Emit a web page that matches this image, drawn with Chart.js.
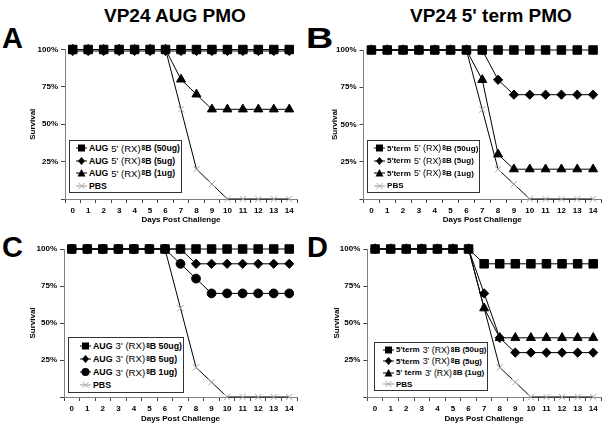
<!DOCTYPE html>
<html>
<head>
<meta charset="utf-8">
<script src="https://cdn.jsdelivr.net/npm/chart.js@4.4.1/dist/chart.umd.min.js"></script>
<style>
  body { margin: 0; background: #fff; width: 608px; height: 428px; position: relative; overflow: hidden;
         font-family: "Liberation Sans", Arial, sans-serif; }
  canvas { position: absolute; }
  .t { position: absolute; font-weight: bold; white-space: nowrap; line-height: 1; color: #000; }
  .lg { position: absolute; background: #fff; border: 1px solid #333; box-sizing: border-box; padding-top: 1px; }
  .row { display: flex; align-items: center; font-weight: bold; white-space: nowrap; color: #000; width: max-content; }
  .row svg { margin-right: 2px; flex: none; }
  .row .m { font-weight: normal; margin: 0 1px 0 3px; }
  .row sub { font-size: 6.5px; vertical-align: -2px; line-height: 0; }
</style>
</head>
<body>
<div class="t" style="left:104px;top:6px;font-size:19px;">VP24 AUG PMO</div>
<div class="t" style="left:410px;top:6px;font-size:19px;">VP24 5' term PMO</div>
<div class="t" style="left:2px;top:24px;font-size:29px;">A</div>
<div class="t" style="left:306px;top:24px;font-size:29px;transform:scaleX(1.3);transform-origin:left;">B</div>
<div class="t" style="left:2px;top:233px;font-size:29px;">C</div>
<div class="t" style="left:307px;top:233px;font-size:29px;">D</div>

<canvas id="cA" width="304" height="200" style="left:0;top:30px"></canvas>
<canvas id="cB" width="304" height="200" style="left:304px;top:30px"></canvas>
<canvas id="cC" width="304" height="198" style="left:0;top:230px"></canvas>
<canvas id="cD" width="304" height="198" style="left:304px;top:230px"></canvas>

<script>
  // days on the x axis
  const days = ["0", "1", "2", "3", "4", "5", "6", "7", "8", "9", "10", "11", "12", "13", "14"];
  const yTickStep = 25;

  // PBS control, same in every panel
  const pbs = [100, 100, 100, 100, 100, 100, 100, 60, 20, 10, 0, 0, 0, 0, 0];

  // A: VP24 AUG, 5'(RX)8B
  const a50 = [100, 100, 100, 100, 100, 100, 100, 100, 100, 100, 100, 100, 100, 100, 100];
  const a5 = [99, 99, 99, 99, 99, 99, 99, 99, 99, 99, 99, 99, 99, 99, 99];
  const a1 = [100, 100, 100, 100, 100, 100, 100, 80, 70, 60, 60, 60, 60, 60, 60];
  const labelsA = ["AUG  5' (RX)8B (50ug)", "AUG  5' (RX)8B (5ug)", "AUG  5' (RX)8B (1ug)", "PBS"];

  // B: VP24 5' term, 5'(RX)8B
  const b50 = [100, 100, 100, 100, 100, 100, 100, 100, 100, 100, 100, 100, 100, 100, 100];
  const b5 = [100, 100, 100, 100, 100, 100, 100, 100, 80, 70, 70, 70, 70, 70, 70];
  const b1 = [100, 100, 100, 100, 100, 100, 100, 80, 30, 20, 20, 20, 20, 20, 20];
  const labelsB = ["5'term  5' (RX)8B (50ug)", "5'term  5' (RX)8B (5ug)", "5'term  5' (RX)8B (1ug)", "PBS"];

  // C: VP24 AUG, 3'(RX)8B
  const c50 = [100, 100, 100, 100, 100, 100, 100, 100, 100, 100, 100, 100, 100, 100, 100];
  const c5 = [100, 100, 100, 100, 100, 100, 100, 100, 90, 90, 90, 90, 90, 90, 90];
  const c1 = [100, 100, 100, 100, 100, 100, 100, 90, 80, 70, 70, 70, 70, 70, 70];
  const labelsC = ["AUG  3' (RX)8B 50ug)", "AUG  3' (RX)8B 5ug)", "AUG  3' (RX)8B 1ug)", "PBS"];

  // D: VP24 5' term, 3'(RX)8B
  const d50 = [100, 100, 100, 100, 100, 100, 100, 90, 90, 90, 90, 90, 90, 90, 90];
  const d5 = [100, 100, 100, 100, 100, 100, 100, 70, 40, 30, 30, 30, 30, 30, 30];
  const d1 = [100, 100, 100, 100, 100, 100, 100, 60, 40, 40, 40, 40, 40, 40, 40];
  const labelsD = ["5'term  3' (RX)8B (50ug)", "5'term  3' (RX)8B (5ug)", "5' term  3' (RX)8B  (1ug)", "PBS"];

  const FONT = "'Liberation Sans', Arial, sans-serif";
  const AXIS = "#808080";

  const MARKS = {
    square: { style: "rect", r: 6, color: "#000" },
    diamond: { style: "rectRot", r: 4.6, color: "#000" },
    triangle: { style: "triangle", r: 5.2, color: "#000" },
    circle: { style: "circle", r: 4.4, color: "#000" },
    cross: { style: "crossRot", r: 4.5, color: "#a8a8a8" },
  };

  function dataset(label, values, markName) {
    const m = MARKS[markName];
    return {
      label: label,
      data: values,
      borderColor: "#000",
      borderWidth: 1,
      pointStyle: m.style,
      pointRadius: m.r,
      pointBackgroundColor: m.color,
      pointBorderColor: m.color,
      pointBorderWidth: 1,
      tension: 0,
      clip: false,
    };
  }

  function makeChart(id, sets, pad, yWidth, xHeight) {
    return new Chart(document.getElementById(id), {
      type: "line",
      data: { labels: days, datasets: sets },
      options: {
        responsive: false,
        animation: false,
        layout: { padding: pad },
        plugins: { legend: { display: false }, tooltip: { enabled: false } },
        scales: {
          x: {
            offset: true,
            grid: { offset: true, drawOnChartArea: false, tickLength: 4, color: "#444" },
            border: { color: AXIS },
            ticks: { color: "#000", padding: 3, font: { family: FONT, size: 8, weight: "bold" }, maxRotation: 0 },
            title: { display: true, text: "Days Post Challenge", color: "#000", padding: { top: 2, bottom: 4 },
                     font: { family: FONT, size: 8, weight: "bold" } },
            afterFit: (s) => { s.height = xHeight; },
          },
          y: {
            min: 0,
            max: 100,
            grid: { drawOnChartArea: false, tickLength: 4, color: "#444" },
            border: { color: AXIS },
            ticks: { stepSize: yTickStep, color: "#000", padding: 3,
                     font: { family: FONT, size: 8, weight: "bold" },
                     callback: (v) => (v === 0 ? "" : v + "%") },
            title: { display: true, text: "Survival", color: "#000", padding: { top: 4, bottom: 2 },
                     font: { family: FONT, size: 8, weight: "bold" } },
            afterFit: (s) => { s.width = yWidth; },
          },
        },
      },
    });
  }

  // small marker sample for the html legend
  function markerSvg(markName) {
    const c = MARKS[markName].color;
    let shape = "";
    if (markName === "square") shape = `<rect x="2" y="1.5" width="7" height="7" fill="${c}"/>`;
    if (markName === "diamond") shape = `<polygon points="5.5,1 9,5 5.5,9 2,5" fill="${c}"/>`;
    if (markName === "triangle") shape = `<polygon points="5.5,1 9.5,8.5 1.5,8.5" fill="${c}"/>`;
    if (markName === "circle") shape = `<circle cx="5.5" cy="5" r="4" fill="${c}"/>`;
    if (markName === "cross") shape = `<path d="M2.5,2 L8.5,8 M8.5,2 L2.5,8" stroke="${c}" stroke-width="1"/>`;
    const line = markName === "cross" ? "#999" : "#000";
    return `<svg width="11" height="10"><line x1="0" y1="5" x2="11" y2="5" stroke="${line}" stroke-width="1"/>${shape}</svg>`;
  }

  function labelHtml(text) {
    const m = text.match(/^(.*?)\s+([35]' \(RX\))8(.*)$/);
    if (!m) return `<span>${text}</span>`;
    return `<span>${m[1]}</span><span class="m">${m[2]}</span><sub>8</sub><span>${m[3]}</span>`;
  }

  function makeLegend(labels, marks, box) {
    const div = document.createElement("div");
    div.className = "lg";
    div.style.left = box.x + "px";
    div.style.top = box.y + "px";
    div.style.width = box.w + "px";
    div.style.height = box.h + "px";
    const rowH = (box.h - 3) / labels.length;
    const rows = labels.map((lab, i) => {
      const row = document.createElement("div");
      row.className = "row";
      row.style.height = rowH + "px";
      row.style.paddingLeft = box.indent + "px";
      row.innerHTML = markerSvg(marks[i]) + labelHtml(lab);
      div.appendChild(row);
      return row;
    });
    document.body.appendChild(div);
    // shrink the text until the widest entry fits inside the box
    let fs = box.fs;
    const apply = () => rows.forEach((r) => {
      r.style.fontSize = fs + "px";
      r.querySelectorAll(".m").forEach((s) => { s.style.fontSize = (fs + 0.8) + "px"; });
    });
    apply();
    while (fs > 6 && Math.max(...rows.map((r) => r.offsetWidth)) > box.w - 3) {
      fs -= 0.1;
      apply();
    }
  }

  const marksSqDiTri = ["square", "diamond", "triangle", "cross"];
  const marksSqDiCir = ["square", "diamond", "circle", "cross"];

  makeChart("cA", [
    dataset(labelsA[0], a50, "square"),
    dataset(labelsA[1], a5, "diamond"),
    dataset(labelsA[2], a1, "triangle"),
    dataset(labelsA[3], pbs, "cross"),
  ], { left: 24, right: 3.5, top: 19.5, bottom: 1 }, 41, 30);

  makeChart("cB", [
    dataset(labelsB[0], b50, "square"),
    dataset(labelsB[1], b5, "diamond"),
    dataset(labelsB[2], b1, "triangle"),
    dataset(labelsB[3], pbs, "cross"),
  ], { left: 22, right: 7, top: 20, bottom: 1 }, 37.5, 30);

  makeChart("cC", [
    dataset(labelsC[0], c50, "square"),
    dataset(labelsC[1], c5, "diamond"),
    dataset(labelsC[2], c1, "circle"),
    dataset(labelsC[3], pbs, "cross"),
  ], { left: 24, right: 3.6, top: 19, bottom: 0 }, 40, 31);

  makeChart("cD", [
    dataset(labelsD[0], d50, "square"),
    dataset(labelsD[1], d5, "diamond"),
    dataset(labelsD[2], d1, "triangle"),
    dataset(labelsD[3], pbs, "cross"),
  ], { left: 24, right: 4, top: 19, bottom: 0 }, 39.3, 31);

  makeLegend(labelsA, marksSqDiTri, { x: 69, y: 140, w: 113, h: 53, fs: 9.3, indent: 6 });
  makeLegend(labelsB, marksSqDiTri, { x: 367, y: 140, w: 113, h: 53, fs: 9.3, indent: 6 });
  makeLegend(labelsC, marksSqDiCir, { x: 68, y: 337, w: 116, h: 56, fs: 10, indent: 11 });
  makeLegend(labelsD, marksSqDiTri, { x: 374, y: 342, w: 114, h: 49, fs: 9.3, indent: 8 });
</script>
</body>
</html>
